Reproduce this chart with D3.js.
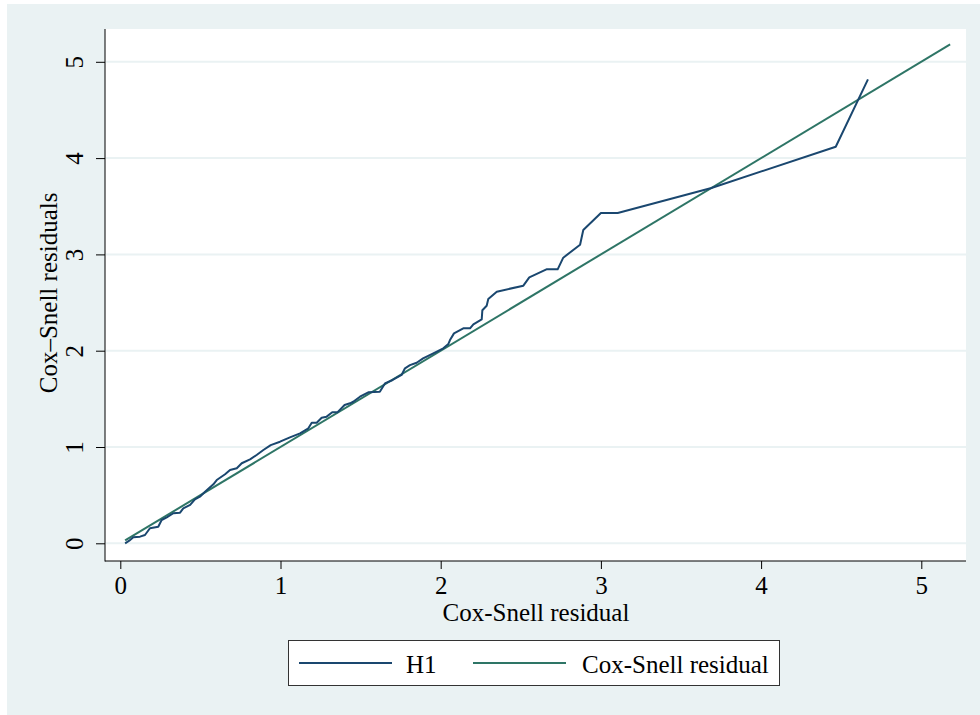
<!DOCTYPE html>
<html><head><meta charset="utf-8">
<script src="https://cdn.jsdelivr.net/npm/d3@7"></script>
<style>body{margin:0;background:#fff}svg{display:block}text{font-family:"Liberation Serif","Times New Roman",serif;fill:#000}</style>
</head><body><svg id="c" width="980" height="715"></svg>
<script>
// H1: Nelson–Aalen cumulative hazard of Cox-Snell residuals
const h1X = [0.03,0.056,0.081,0.123,0.154,0.185,0.237,0.258,0.29,0.331,0.373,0.393,0.436,0.466,0.497,0.529,0.581,0.602,0.654,0.685,0.727,0.758,0.81,0.851,0.893,0.939,0.997,1.059,1.122,1.174,1.195,1.226,1.257,1.288,1.323,1.355,1.40,1.434,1.454,1.496,1.548,1.62,1.652,1.70,1.756,1.777,1.808,1.85,1.89,1.954,2.016,2.048,2.058,2.083,2.141,2.183,2.204,2.256,2.26,2.287,2.297,2.35,2.516,2.553,2.66,2.73,2.765,2.87,2.89,3.0,3.105,3.69,4.466,4.667];
const h1Y = [0.0,0.027,0.062,0.069,0.086,0.156,0.172,0.242,0.27,0.312,0.318,0.363,0.398,0.457,0.484,0.536,0.613,0.657,0.717,0.761,0.779,0.831,0.872,0.917,0.969,1.02,1.055,1.10,1.142,1.194,1.252,1.252,1.304,1.315,1.36,1.36,1.436,1.454,1.47,1.522,1.568,1.574,1.66,1.696,1.748,1.817,1.85,1.875,1.92,1.973,2.025,2.07,2.11,2.18,2.232,2.232,2.274,2.326,2.42,2.467,2.537,2.613,2.675,2.762,2.845,2.845,2.966,3.10,3.253,3.43,3.43,3.69,4.118,4.818];
// Reference line: Cox-Snell residual against itself
const refX = [0.03, 5.18];
const refY = [0.03, 5.18];
const xTicks = [0,1,2,3,4,5];
const yTicks = [0,1,2,3,4,5];
const xTitle = "Cox-Snell residual";
const yTitle = "Cox\u2013Snell residuals";
const seriesNames = ["H1", "Cox-Snell residual"];
const seriesColors = ["#1a476f", "#2e7566"];

const svg = d3.select("#c");
const FS = 25;
// outer graph region
svg.append("rect").attr("x",7).attr("y",4).attr("width",973).attr("height",711).attr("fill","#eaf2f3");
const P = {l:105, r:966, t:29, b:561};
svg.append("rect").attr("x",P.l).attr("y",P.t).attr("width",P.r-P.l).attr("height",P.b-P.t).attr("fill","#fff");

const x = d3.scaleLinear().domain([0,5]).range([120.3, 921.3]);
const y = d3.scaleLinear().domain([0,5]).range([543.3, 61.8]);

// gridlines
svg.append("g").selectAll("line").data(yTicks).join("line")
  .attr("x1",P.l+1).attr("x2",P.r).attr("y1",d=>y(d)).attr("y2",d=>y(d))
  .attr("stroke","#eaf2f3").attr("stroke-width",2);

// axes
const gx = svg.append("g").attr("transform",`translate(0,${P.b})`)
  .call(d3.axisBottom(x).tickValues(xTicks).tickSize(8).tickPadding(7).tickFormat(d3.format("d")));
gx.select(".domain").remove();
gx.selectAll("text").attr("font-size",FS).attr("font-family","Liberation Serif").attr("fill","#000");
gx.selectAll("line").attr("stroke","#000");

const gy = svg.append("g").attr("transform",`translate(${P.l},0)`)
  .call(d3.axisLeft(y).tickValues(yTicks).tickSize(9).tickFormat(d3.format("d")));
gy.select(".domain").remove();
gy.selectAll("line").attr("stroke","#000");
gy.selectAll("text").attr("font-size",FS).attr("font-family","Liberation Serif").attr("fill","#000")
  .attr("text-anchor","middle").attr("dy",0).attr("x",null)
  .attr("transform",d=>`translate(${-22},0) rotate(-90)`);

svg.append("line").attr("x1",P.l).attr("x2",P.l).attr("y1",P.t).attr("y2",P.b+0.5).attr("stroke","#000");
svg.append("line").attr("x1",P.l).attr("x2",P.r).attr("y1",P.b).attr("y2",P.b).attr("stroke","#000");

// titles
svg.append("text").attr("x",536).attr("y",621).attr("text-anchor","middle").attr("font-size",FS).text(xTitle);
svg.append("text").attr("transform",`translate(57,${y(2.6)}) rotate(-90)`).attr("text-anchor","middle").attr("font-size",FS).text(yTitle);

// series
const line = d3.line().x(d=>x(d[0])).y(d=>y(d[1]));
svg.append("path").datum(refX.map((v,i)=>[v,refY[i]])).attr("d",line)
  .attr("fill","none").attr("stroke",seriesColors[1]).attr("stroke-width",2);
svg.append("path").datum(h1X.map((v,i)=>[v,h1Y[i]])).attr("d",line)
  .attr("fill","none").attr("stroke",seriesColors[0]).attr("stroke-width",2).attr("stroke-linejoin","round");

// legend
const lg = svg.append("g");
lg.append("rect").attr("x",288.5).attr("y",640.5).attr("width",491).attr("height",45).attr("fill","#fff").attr("stroke","#333").attr("stroke-width",1);
const items = [{x1:299,x2:392,tx:406},{x1:473,x2:566,tx:582}];
items.forEach((it,i)=>{
  lg.append("line").attr("x1",it.x1).attr("x2",it.x2).attr("y1",663).attr("y2",663).attr("stroke",seriesColors[i]).attr("stroke-width",2);
  lg.append("text").attr("x",it.tx).attr("y",673).attr("font-size",FS).text(seriesNames[i]);
});
</script></body></html>
